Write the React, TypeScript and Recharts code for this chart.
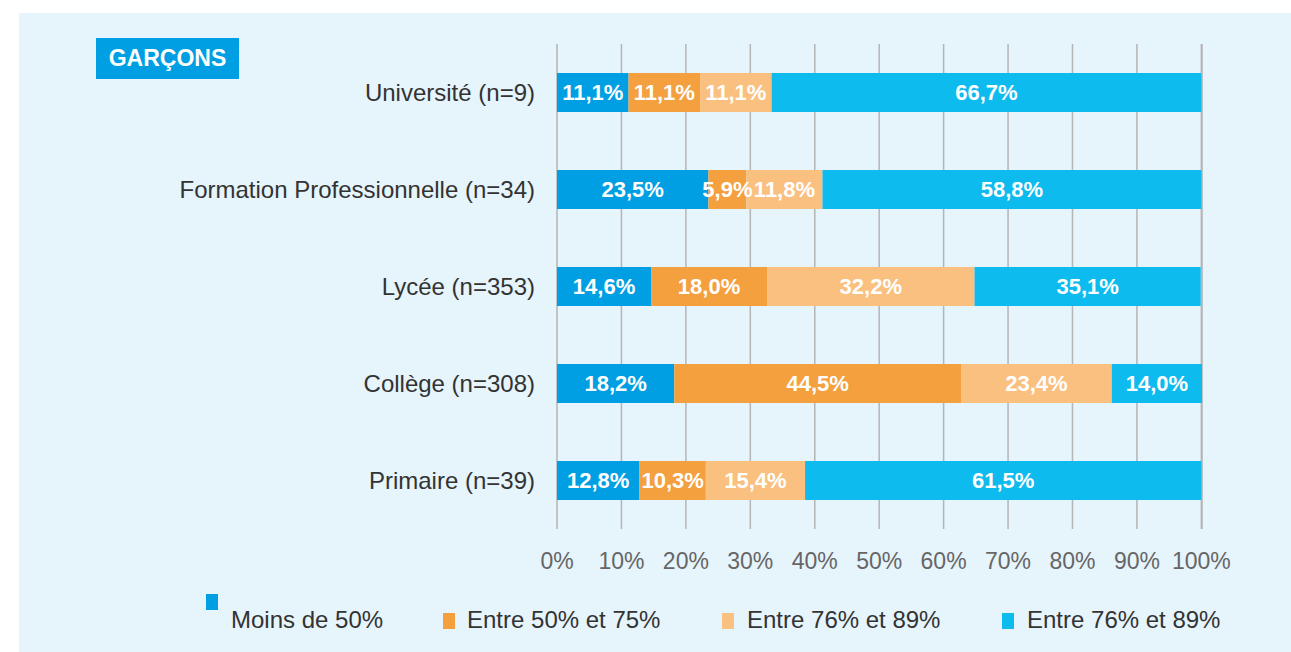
import React from 'react';
import { BarChart, Bar, XAxis, YAxis, CartesianGrid, LabelList, Legend } from 'recharts';

const categories = [
  'Université (n=9)',
  'Formation Professionnelle (n=34)',
  'Lycée (n=353)',
  'Collège (n=308)',
  'Primaire (n=39)',
];
const moins50 = [11.1, 23.5, 14.6, 18.2, 12.8];
const entre50et75 = [11.1, 5.9, 18.0, 44.5, 10.3];
const entre76et89 = [11.1, 11.8, 32.2, 23.4, 15.4];
const plus90 = [66.7, 58.8, 35.1, 14.0, 61.5];
const xTicks = [0, 10, 20, 30, 40, 50, 60, 70, 80, 90, 100];

const seriesNames = ['Moins de 50%', 'Entre 50% et 75%', 'Entre 76% et 89%', 'Entre 76% et 89%'];
const seriesColors = ['#009fe3', '#f5a03f', '#fac080', '#0dbbee'];

const data = categories.map((name, i) => ({
  name,
  s0: moins50[i],
  s1: entre50et75[i],
  s2: entre76et89[i],
  s3: plus90[i],
}));

const fmt = (v: any) => `${Number(v).toFixed(1).replace('.', ',')}%`;

const regular = '"Liberation Sans", Arial, sans-serif';

const LegendBox = () => {
  // first swatch sits higher than the rest, as in the original
  const items = [
    { sq: 206, sqTop: 594, text: 231 },
    { sq: 443, sqTop: 613, text: 467 },
    { sq: 722, sqTop: 613, text: 747 },
    { sq: 1002, sqTop: 613, text: 1027 },
  ];
  return (
    <div style={{ position: 'relative', width: 1291, height: 60 }}>
      {items.map((it, i) => (
        <React.Fragment key={i}>
          <div
            style={{
              position: 'absolute',
              left: it.sq,
              top: it.sqTop - 590,
              width: 12,
              height: 16,
              background: seriesColors[i],
            }}
          />
          <div
            style={{
              position: 'absolute',
              left: it.text,
              top: 608 - 590,
              fontFamily: regular,
              fontSize: 24,
              lineHeight: '24px',
              color: '#333',
              whiteSpace: 'nowrap',
            }}
          >
            {seriesNames[i]}
          </div>
        </React.Fragment>
      ))}
    </div>
  );
};

export default function App() {
  return (
    <div style={{ position: 'absolute', left: 0, top: 0, width: 1291, height: 652, background: '#fff' }}>
      <div style={{ position: 'absolute', left: 19, top: 13, width: 1272, height: 639, background: '#e6f4fc' }} />
      <div
        style={{
          position: 'absolute',
          left: 96,
          top: 38,
          width: 143,
          height: 41,
          background: '#009fe3',
          color: '#fff',
          fontFamily: regular,
          fontWeight: 'bold',
          fontSize: 23,
          lineHeight: '41px',
          textAlign: 'center',
        }}
      >
        GARÇONS
      </div>
      <div style={{ position: 'absolute', left: 0, top: 0 }}>
        <BarChart
          width={1291}
          height={652}
          data={data}
          layout="vertical"
          barCategoryGap={0}
          margin={{ top: 44, right: 89, left: 0, bottom: 0 }}
        >
          <CartesianGrid horizontal={false} stroke="#b5b5b5" strokeWidth={1.5} />
          <XAxis
            type="number"
            domain={[0, 100]}
            ticks={xTicks}
            tickFormatter={(v) => `${v}%`}
            axisLine={false}
            tickLine={false}
            tickSize={0}
            tickMargin={24}
            height={63}
            interval={0}
            tick={{ fill: '#666', fontSize: 23, fontFamily: regular }}
          />
          <YAxis
            type="category"
            dataKey="name"
            width={557}
            axisLine={false}
            tickLine={false}
            tickSize={0}
            tickMargin={22}
            tick={{ fill: '#333', fontSize: 24, fontFamily: regular }}
          />
          <Legend content={<LegendBox />} wrapperStyle={{ left: 0, top: 590, width: 1291, height: 60 }} />
          {['s0', 's1', 's2', 's3'].map((k, i) => (
            <Bar
              key={k}
              dataKey={k}
              stackId="a"
              fill={seriesColors[i]}
              barSize={39}
              isAnimationActive={false}
              name={seriesNames[i]}
            >
              <LabelList
                dataKey={k}
                position="center"
                formatter={fmt}
                fill="#fff"
                style={{ fontFamily: regular, fontWeight: 'bold', fontSize: 22 }}
              />
            </Bar>
          ))}
        </BarChart>
      </div>
    </div>
  );
}
